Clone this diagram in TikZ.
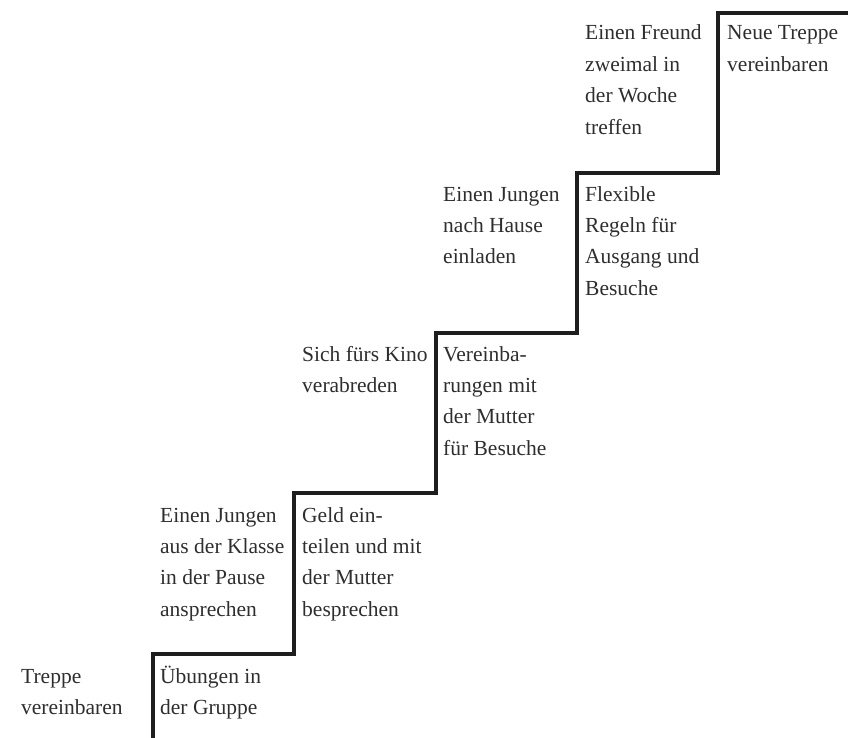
\documentclass[tikz,border=0pt]{standalone}
\usepackage{fontspec}
\setmainfont{Liberation Serif}
\definecolor{txt}{HTML}{2E2E2E}
\definecolor{stair}{HTML}{1E1E1E}
\newcommand{\stxt}[1]{\begin{tabular}[t]{@{}l@{}}#1\end{tabular}}
\begin{document}
\begin{tikzpicture}[x=1pt,y=-1pt,
  lbl/.style={anchor=base west,inner sep=0pt,text=txt,font=\fontsize{21.5}{31.4}\selectfont},
  stairline/.style={draw=stair,line width=3.2pt,line join=miter}]
\useasboundingbox (0,0) rectangle (848,738);
% stair corners
\coordinate (s0) at (153,740);
\coordinate (s1) at (153,654);
\coordinate (s2) at (294,654);
\coordinate (s3) at (294,493);
\coordinate (s4) at (436,493);
\coordinate (s5) at (436,333);
\coordinate (s6) at (577,333);
\coordinate (s7) at (577,173);
\coordinate (s8) at (718,173);
\coordinate (s9) at (718,13);
\coordinate (s10) at (850,13);
\draw[stairline] (s0) -- (s1) -- (s2) -- (s3) -- (s4) -- (s5) -- (s6) -- (s7) -- (s8) -- (s9) -- (s10);
% level 1
\node[lbl] (a1) at (21,683) {\stxt{Treppe\\vereinbaren}};
\node[lbl] (b1) at (160,683) {\stxt{Übungen in\\der Gruppe}};
% level 2
\node[lbl] (a2) at (160,522) {\stxt{Einen Jungen\\aus der Klasse\\in der Pause\\ansprechen}};
\node[lbl] (b2) at (302,522) {\stxt{Geld ein-\\teilen und mit\\der Mutter\\besprechen}};
% level 3
\node[lbl] (a3) at (302,361) {\stxt{Sich fürs Kino\\verabreden}};
\node[lbl] (b3) at (443,361) {\stxt{Vereinba-\\rungen mit\\der Mutter\\für Besuche}};
% level 4
\node[lbl] (a4) at (443,201) {\stxt{Einen Jungen\\nach Hause\\einladen}};
\node[lbl] (b4) at (585,201) {\stxt{Flexible\\Regeln für\\Ausgang und\\Besuche}};
% level 5
\node[lbl] (a5) at (585,40) {\stxt{Einen Freund\\zweimal in\\der Woche\\treffen}};
\node[lbl] (b5) at (727,40) {\stxt{Neue Treppe\\vereinbaren}};
\end{tikzpicture}
\end{document}
